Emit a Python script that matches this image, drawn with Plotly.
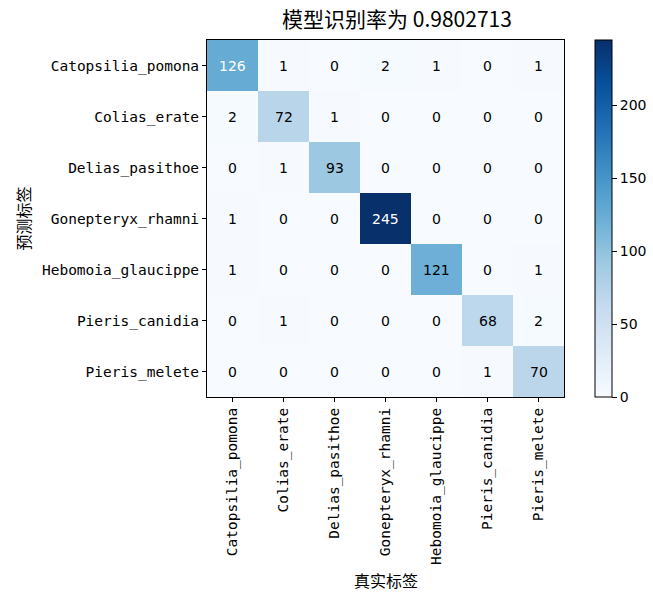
import plotly.graph_objects as go
import plotly.colors as pc

labels = ["Catopsilia_pomona", "Colias_erate", "Delias_pasithoe", "Gonepteryx_rhamni",
          "Hebomoia_glaucippe", "Pieris_canidia", "Pieris_melete"]
# rows = predicted label, columns = true label
matrix = [
    [126, 1, 0, 2, 1, 0, 1],
    [2, 72, 1, 0, 0, 0, 0],
    [0, 1, 93, 0, 0, 0, 0],
    [1, 0, 0, 245, 0, 0, 0],
    [1, 0, 0, 0, 121, 0, 1],
    [0, 1, 0, 0, 0, 68, 2],
    [0, 0, 0, 0, 0, 1, 70],
]
title_text = "模型识别率为 0.9802713"
x_title = "真实标签"
y_title = "预测标签"
cbar_ticks = [0, 50, 100, 150, 200]

blues = pc.sequential.Blues
n = len(blues)
colorscale = [[i / (n - 1), c] for i, c in enumerate(blues)]

zmax = max(max(r) for r in matrix)
thresh = zmax / 2

fig = go.Figure(go.Heatmap(
    z=matrix, x=labels, y=labels, colorscale=colorscale, zmin=0, zmax=zmax,
    hoverinfo="skip",
    colorbar=dict(
        x=(595 - 207) / 357, xanchor="left", y=0.5, yanchor="middle",
        xpad=0, ypad=0,
        len=1, lenmode="fraction", thickness=17, thicknessmode="pixels",
        outlinewidth=1, outlinecolor="black", ticks="outside", ticklen=5,
        tickcolor="black", tickvals=cbar_ticks,
        tickfont=dict(family="DejaVu Sans", size=14, color="black"),
    ),
))

mono = "DejaVu Sans Mono, Noto Sans CJK SC"
annotations = []
for i, row in enumerate(matrix):
    for j, v in enumerate(row):
        annotations.append(dict(
            x=labels[j], y=labels[i], text=str(v), showarrow=False,
            font=dict(family="DejaVu Sans", size=14,
                      color="white" if v > thresh else "black"),
        ))

annotations.append(dict(
    text=x_title, xref="paper", yref="paper", x=0.5, y=-(580 - 397) / 357,
    xanchor="center", yanchor="middle", showarrow=False,
    font=dict(family="Noto Sans CJK SC", size=16, color="black"),
))
annotations.append(dict(
    text=y_title, xref="paper", yref="paper", x=(22 - 207) / 357, y=0.5,
    xanchor="center", yanchor="middle", showarrow=False, textangle=-90,
    font=dict(family="Noto Sans CJK SC", size=16, color="black"),
))

axis_common = dict(
    showline=True, mirror=True, linecolor="black", linewidth=1,
    ticks="outside", ticklen=4, tickcolor="black", showgrid=False,
    zeroline=False, tickfont=dict(family=mono, size=14.5, color="black"),
)

fig.update_layout(
    width=653, height=592,
    margin=dict(l=207, r=89, t=40, b=195, autoexpand=False),
    paper_bgcolor="white", plot_bgcolor="white",
    title=dict(text=title_text, xref="container", yref="container",
               x=397 / 653, y=1 - 20 / 592, xanchor="center", yanchor="middle",
               font=dict(family="Noto Sans CJK SC", size=21, color="black")),
    xaxis=dict(axis_common, tickangle=-90, constrain="domain"),
    yaxis=dict(axis_common, autorange="reversed"),
    annotations=annotations,
)

fig.write_html("out.html")
